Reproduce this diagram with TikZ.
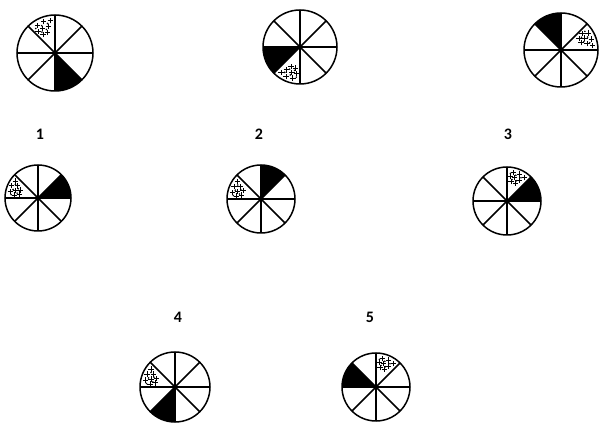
\documentclass[tikz,border=0pt]{standalone}
\usepackage{fontspec}
\setmainfont{Carlito}
\usetikzlibrary{positioning,calc,shapes.misc}

% one wheel: centre, radius, black sector, dotted sector (sector k spans 45k..45k+45 deg)
\newcommand{\wheel}[4]{%
  \begin{scope}[shift={(#1)}]
    \fill[black] (0,0) -- (#3*45:#2) arc[start angle=#3*45, end angle=#3*45+45, radius=#2] -- cycle;
    \begin{scope}
      \clip (0,0) -- (#4*45:#2) arc[start angle=#4*45, end angle=#4*45+45, radius=#2] -- cycle;
      \foreach \a/\f in {8/0.86, 20/0.88, 32/0.86, 14/0.72, 27/0.72, 38/0.72, 20/0.58, 33/0.58}
        \node[crossmark] at (#4*45+\a:\f*#2) {};
      \foreach \a/\f in {14/0.8, 26/0.8, 38/0.82, 20/0.66, 32/0.65}
        \fill[black] (#4*45+\a:\f*#2) circle[radius=0.9pt];
    \end{scope}
    \draw[wheelline] (0,0) circle[radius=#2];
    \foreach \k in {0,...,3}
      \draw[wheelline] (\k*45:#2) -- (\k*45+180:#2);
  \end{scope}}

\begin{document}
\begin{tikzpicture}[
  x=1pt, y=1pt,
  wheelline/.style={line width=1.5pt, black},
  crossmark/.style={cross out, draw=black, line width=0.7pt, inner sep=0pt, minimum size=3.2pt, rotate=45},
  numlabel/.style={font=\fontsize{16}{16}\selectfont\bfseries, inner sep=0pt}
]
\useasboundingbox (0,0) rectangle (600,423);

% the series
\coordinate (wA) at (55,370);
\coordinate (wB) at (300,376);
\coordinate (wC) at (561,373);
\wheel{wA}{38}{6}{2}
\wheel{wB}{37}{4}{5}
\wheel{wC}{37}{2}{0}

% the answers
\coordinate (o1) at (38,225);
\coordinate (o2) at (261,224);
\coordinate (o3) at (507,222);
\coordinate (o4) at (175,36);
\coordinate (o5) at (376,36);
\wheel{o1}{33}{0}{3}
\wheel{o2}{34}{1}{3}
\wheel{o3}{34}{0}{1}
\wheel{o4}{35}{5}{3}
\wheel{o5}{34}{3}{1}

\node[numlabel] (n1) at (40,289) {1};
\node[numlabel] (n2) at (259,289) {2};
\node[numlabel] (n3) at (508,289) {3};
\node[numlabel] (n4) at (178,106) {4};
\node[numlabel] (n5) at (370,106) {5};

\end{tikzpicture}
\end{document}
